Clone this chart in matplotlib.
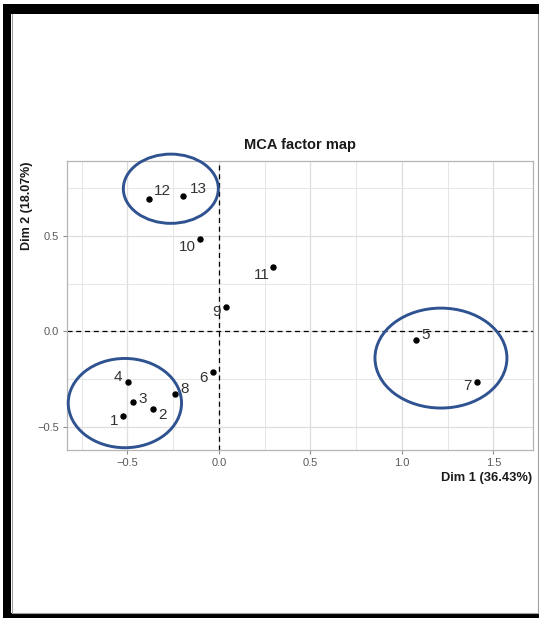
import matplotlib
matplotlib.use("Agg")
import matplotlib.pyplot as plt
from matplotlib.patches import Ellipse, Rectangle
from matplotlib.lines import Line2D
from matplotlib.ticker import MultipleLocator

plt.rcParams['font.family'] = ['Liberation Sans', 'DejaVu Sans']

# individual coordinates on the first two MCA dimensions
labels = ['1', '2', '3', '4', '5', '6', '7', '8', '9', '10', '11', '12', '13']
dim1 = [-0.526, -0.359, -0.468, -0.497, 1.077, -0.034, 1.408, -0.240, 0.037, -0.102, 0.297, -0.383, -0.197]
dim2 = [-0.443, -0.410, -0.373, -0.265, -0.046, -0.212, -0.265, -0.328, 0.128, 0.483, 0.335, 0.692, 0.709]
inertia = [36.43, 18.07]

# label nudges in pixels (dx, dy)
nudge = [(-9, -5), (9, -6), (9, 3), (-10, 5), (10, 5), (-9, -6), (-9, -4),
         (10, 5), (-9, -5), (-13, -8), (-12, -8), (14, 8), (15, 7)]

# highlighted groups: centre x, centre y, width, height
groups = [(-0.263, 0.747, 0.519, 0.363),
          (-0.514, -0.377, 0.619, 0.468),
          (1.213, -0.141, 0.721, 0.524)]

W, H = 539, 618
fig = plt.figure(figsize=(W / 100, H / 100), dpi=100)
ax = fig.add_axes([66.7 / W, 1 - 450 / H, (533 - 66.7) / W, (450 - 160.7) / H])

ax.set_xlim(-0.832, 1.716)
ax.set_ylim(-0.623, 0.894)
ax.xaxis.set_major_locator(MultipleLocator(0.5))
ax.yaxis.set_major_locator(MultipleLocator(0.5))
ax.xaxis.set_minor_locator(MultipleLocator(0.25))
ax.yaxis.set_minor_locator(MultipleLocator(0.25))
ax.grid(which='major', color='#dedede', lw=0.9)
ax.grid(which='minor', color='#e6e6e6', lw=0.7)
ax.set_axisbelow(True)
ax.tick_params(which='minor', length=0)
ax.tick_params(which='major', length=3, width=0.8, color='#8c8c8c',
               labelsize=8, labelcolor='#5a5a5a', pad=2.5)
ax.xaxis.set_major_formatter(lambda v, p: f"{v:.1f}".replace('-', '\u2212'))
ax.yaxis.set_major_formatter(lambda v, p: f"{v:.1f}".replace('-', '\u2212'))
for s in ax.spines.values():
    s.set_color('#b5b5b5')
    s.set_linewidth(0.9)

ax.axhline(0, color='black', lw=0.9, ls=(0, (4, 3)))
ax.axvline(0, color='black', lw=0.9, ls=(0, (4, 3)))

ax.scatter(dim1, dim2, s=13, color='black', zorder=3)
for lab, x, y, (dx, dy) in zip(labels, dim1, dim2, nudge):
    ax.annotate(lab, (x, y), xytext=(dx, dy), textcoords='offset pixels',
                ha='center', va='center', fontsize=11, color='#333333')

for cx, cy, w, h in groups:
    ax.add_patch(Ellipse((cx, cy), w, h, fill=False, ec='#2f5291', lw=2.1,
                         clip_on=False, zorder=4))

fig.text(300 / W, 1 - 145 / H, 'MCA factor map', ha='center', va='center',
         fontsize=10.5, fontweight='bold', color='#1a1a1a')
fig.text(532 / W, 1 - 478 / H, f'Dim 1 ({inertia[0]:.2f}%)', ha='right', va='center',
         fontsize=9.3, fontweight='bold', color='#1a1a1a')
fig.text(26.7 / W, 1 - 161.5 / H, f'Dim 2 ({inertia[1]:.2f}%)', ha='center', va='top',
         rotation=90, fontsize=9, fontweight='bold', color='#1a1a1a')

# screenshot frame
def px_rect(x0, y0, x1, y1, color):
    fig.patches.append(Rectangle((x0 / W, 1 - y1 / H), (x1 - x0) / W, (y1 - y0) / H,
                                 transform=fig.transFigure, color=color, lw=0))

px_rect(3, 4, W, 14, 'black')
px_rect(3, 4, 11, H, 'black')
px_rect(3, 613, W, H, 'black')
for xs, ys in [((11.5, 11.5), (14, 612.5)), ((11.5, 537.7), (612.5, 612.5)),
               ((537.7, 537.7), (14, 612.5))]:
    fig.lines.append(Line2D([x / W for x in xs], [1 - y / H for y in ys],
                            transform=fig.transFigure, color='#a0a0a0', lw=0.8))

fig.savefig('out.png', dpi=100)
